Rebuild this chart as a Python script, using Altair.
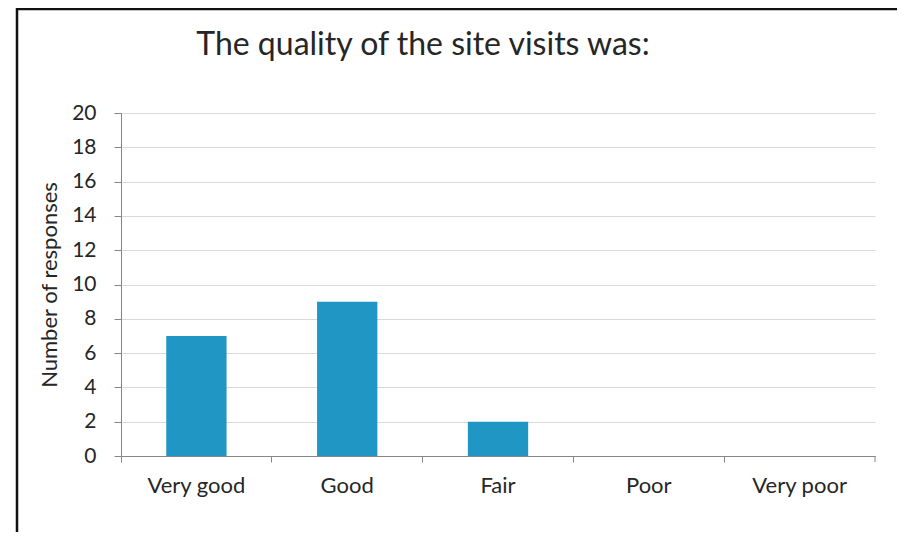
import altair as alt
import pandas as pd

categories = ["Very good", "Good", "Fair", "Poor", "Very poor"]
responses = [7, 9, 2, 0, 0]

df = pd.DataFrame({"rating": categories, "count": responses})

W, H = 754, 343
FONT = "Lato"

base = alt.Chart(df)

border = base.transform_filter(alt.datum.rating == "Very good").mark_rect(
    fill="transparent", stroke="#111111", strokeWidth=2.5, clip=False
).encode(
    x=alt.value(-104), x2=alt.value(W + 200),
    y=alt.value(-104), y2=alt.value(H + 200),
)

bars = base.mark_bar(color="#1F96C4", width=alt.RelativeBandSize(0.4)).encode(
    x=alt.X(
        "rating:N",
        sort=categories,
        scale=alt.Scale(paddingInner=0, paddingOuter=0),
        axis=alt.Axis(
            title=None, labelAngle=0, bandPosition=0, labelFontSize=22,
            labelFont=FONT, labelColor="#262626", labelPadding=13,
            tickSize=6, tickColor="#868686", domainColor="#868686",
            grid=False, labelBound=False,
        ),
    ),
    y=alt.Y(
        "count:Q",
        scale=alt.Scale(domain=[0, 20]),
        axis=alt.Axis(
            title="Number of responses", values=list(range(0, 21, 2)),
            labelFontSize=21, labelFont=FONT, labelColor="#262626",
            labelPadding=18, tickSize=7, tickColor="#868686",
            domainColor="#868686", gridColor="#d9d9d9",
            titleFont=FONT, titleFontSize=22, titleFontWeight="normal",
            titleColor="#262626", titlePadding=10,
        ),
    ),
)

title = base.transform_filter(alt.datum.rating == "Very good").mark_text(
    text="The quality of the site visits was:", font=FONT, fontSize=32,
    color="#262626", align="center", baseline="alphabetic", clip=False,
).encode(x=alt.value(302), y=alt.value(-58))

end_tick = base.transform_filter(alt.datum.rating == "Very good").mark_rule(
    color="#868686"
).encode(x=alt.value(W), y=alt.value(H), y2=alt.value(H + 6))

chart = alt.layer(border, bars, end_tick, title).properties(
    width=W,
    height=H,
    padding={"left": 113, "top": 105, "right": 22, "bottom": 76},
    autosize=alt.AutoSizeParams(type="none"),
).configure_view(stroke=None)

chart.save("out.html", embed_options={"renderer": "svg", "actions": False})
